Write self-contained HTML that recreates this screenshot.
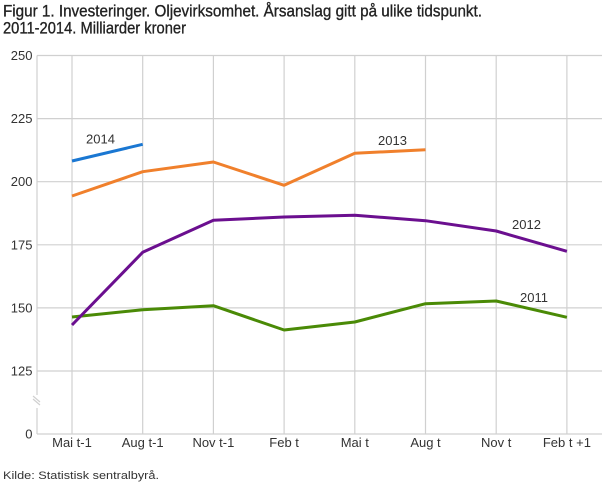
<!DOCTYPE html>
<html>
<head>
<meta charset="utf-8">
<style>
  html, body { margin: 0; padding: 0; background: #ffffff; }
  svg { display: block; }
  text { font-family: "Liberation Sans", "DejaVu Sans", sans-serif; }
</style>
</head>
<body>
<svg width="610" height="488" viewBox="0 0 610 488" xmlns="http://www.w3.org/2000/svg">
  <rect x="0" y="0" width="610" height="488" fill="#ffffff"/>

  <!-- Title -->
  <text x="3" y="16.5" font-size="17" fill="#222" stroke="#222" stroke-width="0.35" textLength="479" lengthAdjust="spacingAndGlyphs">Figur 1. Investeringer. Oljevirksomhet. Årsanslag gitt på ulike tidspunkt.</text>
  <text x="3" y="33.5" font-size="17" fill="#222" stroke="#222" stroke-width="0.35" textLength="183" lengthAdjust="spacingAndGlyphs">2011-2014. Milliarder kroner</text>

  <!-- Horizontal gridlines -->
  <g stroke="#d0d0d0" stroke-width="1.2">
    <line x1="37" y1="55.5" x2="602" y2="55.5"/>
    <line x1="37" y1="118.6" x2="602" y2="118.6"/>
    <line x1="37" y1="181.7" x2="602" y2="181.7"/>
    <line x1="37" y1="244.8" x2="602" y2="244.8"/>
    <line x1="37" y1="307.9" x2="602" y2="307.9"/>
    <line x1="37" y1="371" x2="602" y2="371"/>
    <line x1="37" y1="434" x2="602" y2="434"/>
  </g>
  <!-- Vertical gridlines -->
  <g stroke="#d0d0d0" stroke-width="1.2">
    <line x1="72" y1="55.5" x2="72" y2="434"/>
    <line x1="142.7" y1="55.5" x2="142.7" y2="434"/>
    <line x1="213.4" y1="55.5" x2="213.4" y2="434"/>
    <line x1="284.1" y1="55.5" x2="284.1" y2="434"/>
    <line x1="354.8" y1="55.5" x2="354.8" y2="434"/>
    <line x1="425.5" y1="55.5" x2="425.5" y2="434"/>
    <line x1="496.2" y1="55.5" x2="496.2" y2="434"/>
    <line x1="566.9" y1="55.5" x2="566.9" y2="434"/>
  </g>
  <!-- Left axis with break -->
  <g stroke="#d0d0d0" stroke-width="1.2">
    <line x1="37" y1="55.5" x2="37" y2="395"/>
    <line x1="37" y1="408" x2="37" y2="434"/>
    <line x1="33" y1="396" x2="40" y2="402"/>
    <line x1="33" y1="399" x2="40" y2="405"/>
  </g>

  <!-- Y labels -->
  <g font-size="13" fill="#333" text-anchor="end">
    <text x="32.5" y="60">250</text>
    <text x="32.5" y="123.1">225</text>
    <text x="32.5" y="186.2">200</text>
    <text x="32.5" y="249.3">175</text>
    <text x="32.5" y="312.4">150</text>
    <text x="32.5" y="375.5">125</text>
    <text x="32.5" y="438.5">0</text>
  </g>

  <!-- X labels -->
  <g font-size="13" fill="#333" text-anchor="middle">
    <text x="72" y="447">Mai t-1</text>
    <text x="142.7" y="447">Aug t-1</text>
    <text x="213.4" y="447">Nov t-1</text>
    <text x="284.1" y="447">Feb t</text>
    <text x="354.8" y="447">Mai t</text>
    <text x="425.5" y="447">Aug t</text>
    <text x="496.2" y="447">Nov t</text>
    <text x="566.9" y="447">Feb t +1</text>
  </g>

  <!-- Series -->
  <g fill="none" stroke-width="3" stroke-linejoin="round" stroke-linecap="butt">
    <polyline stroke="#4a8a06" points="72,317 142.7,309.8 213.4,305.7 284.1,330 354.8,322 425.5,303.7 496.2,301 566.9,317.3"/>
    <polyline stroke="#6b0f8f" points="72,325 142.7,252.3 213.4,220.3 284.1,217 354.8,215.3 425.5,220.7 496.2,231 566.9,251.3"/>
    <polyline stroke="#f0802c" points="72,196 142.7,171.7 213.4,162 284.1,185.3 354.8,153.3 425.5,149.7"/>
    <polyline stroke="#1a77d2" points="72,161 142.7,144.3"/>
  </g>

  <!-- Series labels -->
  <g font-size="13" fill="#333">
    <text x="86" y="143.5">2014</text>
    <text x="378" y="145">2013</text>
    <text x="512" y="229">2012</text>
    <text x="520" y="302">2011</text>
  </g>

  <!-- Source -->
  <text x="3" y="479" font-size="11" fill="#333" textLength="156" lengthAdjust="spacingAndGlyphs">Kilde: Statistisk sentralbyrå.</text>
</svg>
</body>
</html>
